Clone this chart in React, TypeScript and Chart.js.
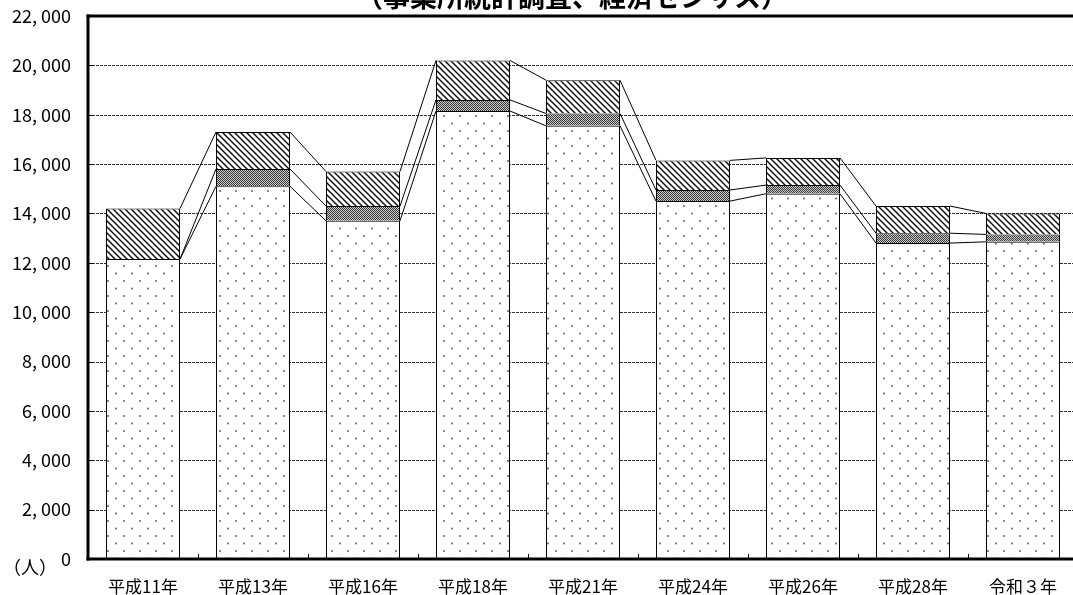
import React, { useEffect, useRef } from "react";
import { Chart, registerables } from "chart.js";

Chart.register(...registerables);

const categories = ["平成11年", "平成13年", "平成16年", "平成18年", "平成21年", "平成24年", "平成26年", "平成28年", "令和３年"];
const dotSeries = [12150, 15100, 13700, 18150, 17550, 14500, 14800, 12800, 12850];
const checkSeries = [0, 700, 600, 450, 500, 450, 350, 400, 300];
const hatchSeries = [2050, 1500, 1400, 1600, 1350, 1200, 1100, 1100, 850];
const yTicks = [0, 2000, 4000, 6000, 8000, 10000, 12000, 14000, 16000, 18000, 20000, 22000];
const titleText = "（事業所統計調査、経済センサス）";
const unitText = "（人）";

const FONT = '"Noto Sans CJK JP", "Noto Sans", sans-serif';

function makeDots(): CanvasPattern {
  const c = document.createElement("canvas");
  c.width = 16; c.height = 15;
  const g = c.getContext("2d")!;
  g.fillStyle = "#fff"; g.fillRect(0, 0, 16, 15);
  g.fillStyle = "#555";
  g.beginPath(); g.arc(4, 3.5, 0.9, 0, Math.PI * 2); g.fill();
  g.beginPath(); g.arc(12, 11, 0.9, 0, Math.PI * 2); g.fill();
  return g.createPattern(c, "repeat")!;
}
function makeHatch(): CanvasPattern {
  const s = 6;
  const c = document.createElement("canvas");
  c.width = s; c.height = s;
  const g = c.getContext("2d")!;
  g.fillStyle = "#fff"; g.fillRect(0, 0, s, s);
  g.strokeStyle = "#111"; g.lineWidth = 1.5;
  g.beginPath();
  g.moveTo(-1, -1); g.lineTo(s + 1, s + 1);
  g.moveTo(-1, s - 1); g.lineTo(1, s + 1);
  g.moveTo(s - 1, -1); g.lineTo(s + 1, 1);
  g.stroke();
  return g.createPattern(c, "repeat")!;
}
function makeCheck(): CanvasPattern {
  const c = document.createElement("canvas");
  c.width = 2; c.height = 2;
  const g = c.getContext("2d")!;
  g.fillStyle = "#c8c8c8"; g.fillRect(0, 0, 2, 2);
  g.fillStyle = "#3a3a3a"; g.fillRect(0, 0, 1, 1); g.fillRect(1, 1, 1, 1);
  return g.createPattern(c, "repeat")!;
}

const decor = {
  id: "decor",
  beforeDatasetsDraw(chart: any) {
    const { ctx, chartArea: a, scales } = chart;
    const y = scales.y;
    ctx.save();
    ctx.strokeStyle = "#333";
    ctx.lineWidth = 1;
    ctx.setLineDash([3, 1]);
    for (const v of yTicks) {
      if (v === 0 || v === 22000) continue;
      const py = Math.round(y.getPixelForValue(v)) + 0.5;
      ctx.beginPath(); ctx.moveTo(a.left, py); ctx.lineTo(a.right, py); ctx.stroke();
    }
    ctx.restore();
  },
  afterDatasetsDraw(chart: any) {
    const { ctx, chartArea: a, scales } = chart;
    const y = scales.y;
    ctx.save();
    ctx.strokeStyle = "#000";
    ctx.lineWidth = 1;
    chart.data.datasets.forEach((_: any, d: number) => {
      const meta = chart.getDatasetMeta(d);
      for (let i = 0; i < meta.data.length - 1; i++) {
        const e = meta.data[i];
        const n = meta.data[i + 1];
        ctx.beginPath();
        ctx.moveTo(e.x + e.width / 2, e.y);
        ctx.lineTo(n.x - n.width / 2, n.y);
        ctx.stroke();
      }
    });
    for (const v of yTicks) {
      const py = Math.round(y.getPixelForValue(v)) + 0.5;
      ctx.beginPath(); ctx.moveTo(a.left, py); ctx.lineTo(a.left + 5, py); ctx.stroke();
    }
    const cw = (a.right - a.left) / categories.length;
    for (let i = 1; i < categories.length; i++) {
      const px = Math.round(a.left + i * cw) + 0.5;
      ctx.beginPath(); ctx.moveTo(px, a.bottom); ctx.lineTo(px, a.bottom - 5); ctx.stroke();
    }
    ctx.fillStyle = "#000";
    const t = 3;
    ctx.fillRect(a.left - 1.5, a.top - 1.5, t, a.bottom - a.top + 3);
    ctx.fillRect(a.right - 1.5, a.top - 1.5, t, a.bottom - a.top + 3);
    ctx.fillRect(a.left - 1.5, a.top - 1.5, a.right - a.left + 3, t);
    ctx.fillRect(a.left - 1.5, a.bottom - 1.5, a.right - a.left + 3, t);
    ctx.restore();
  },
  afterDraw(chart: any) {
    const { ctx } = chart;
    ctx.save();
    ctx.fillStyle = "#000";
    ctx.font = `bold 27px ${FONT}`;
    ctx.textAlign = "center";
    ctx.textBaseline = "alphabetic";
    ctx.fillText(titleText, 572, 7);
    ctx.font = `18px ${FONT}`;
    ctx.textAlign = "left";
    ctx.textBaseline = "middle";
    ctx.fillText(unitText, 3, 567);
    ctx.restore();
  },
};

export default function App() {
  const ref = useRef<HTMLCanvasElement>(null);
  useEffect(() => {
    const canvas = ref.current!;
    const chart = new Chart(canvas, {
      type: "bar",
      data: {
        labels: categories,
        datasets: [
          { label: "区分1", data: dotSeries, backgroundColor: makeDots(), borderColor: "#000", borderWidth: 1 },
          { label: "区分2", data: checkSeries, backgroundColor: makeCheck(), borderColor: "#000", borderWidth: 1 },
          { label: "区分3", data: hatchSeries, backgroundColor: makeHatch(), borderColor: "#000", borderWidth: 1 },
        ],
      },
      options: {
        responsive: false,
        animation: false,
        devicePixelRatio: 1,
        layout: { padding: { left: 0, top: 16, right: 22, bottom: 0 } },
        plugins: { legend: { display: false }, tooltip: { enabled: false }, title: { display: false } },
        datasets: { bar: { barPercentage: 0.673, categoryPercentage: 1 } },
        scales: {
          x: {
            stacked: true,
            grid: { display: false },
            border: { display: false },
            ticks: { color: "#000", font: { family: FONT, size: 17 }, padding: 9, maxRotation: 0, autoSkip: false },
            afterFit: (s: any) => { s.height = 36; s.paddingLeft = 0; s.paddingRight = 0; },
          },
          y: {
            stacked: true,
            min: 0,
            max: 22000,
            grid: { display: false },
            border: { display: false },
            ticks: {
              stepSize: 2000,
              color: "#000",
              font: { family: FONT, size: 18 },
              padding: 9,
              callback: (v: any) => Number(v).toLocaleString("en-US").replace(",", ", "),
            },
            afterFit: (s: any) => { s.width = 88; s.paddingTop = 0; s.paddingBottom = 0; },
          },
        },
      },
      plugins: [decor],
    });
    return () => chart.destroy();
  }, []);
  return (
    <div style={{ position: "absolute", left: 0, top: 0, width: 1073, height: 595, overflow: "hidden", background: "#fff" }}>
      <canvas ref={ref} width={1100} height={595} style={{ display: "block", width: 1100, height: 595 }} />
    </div>
  );
}
